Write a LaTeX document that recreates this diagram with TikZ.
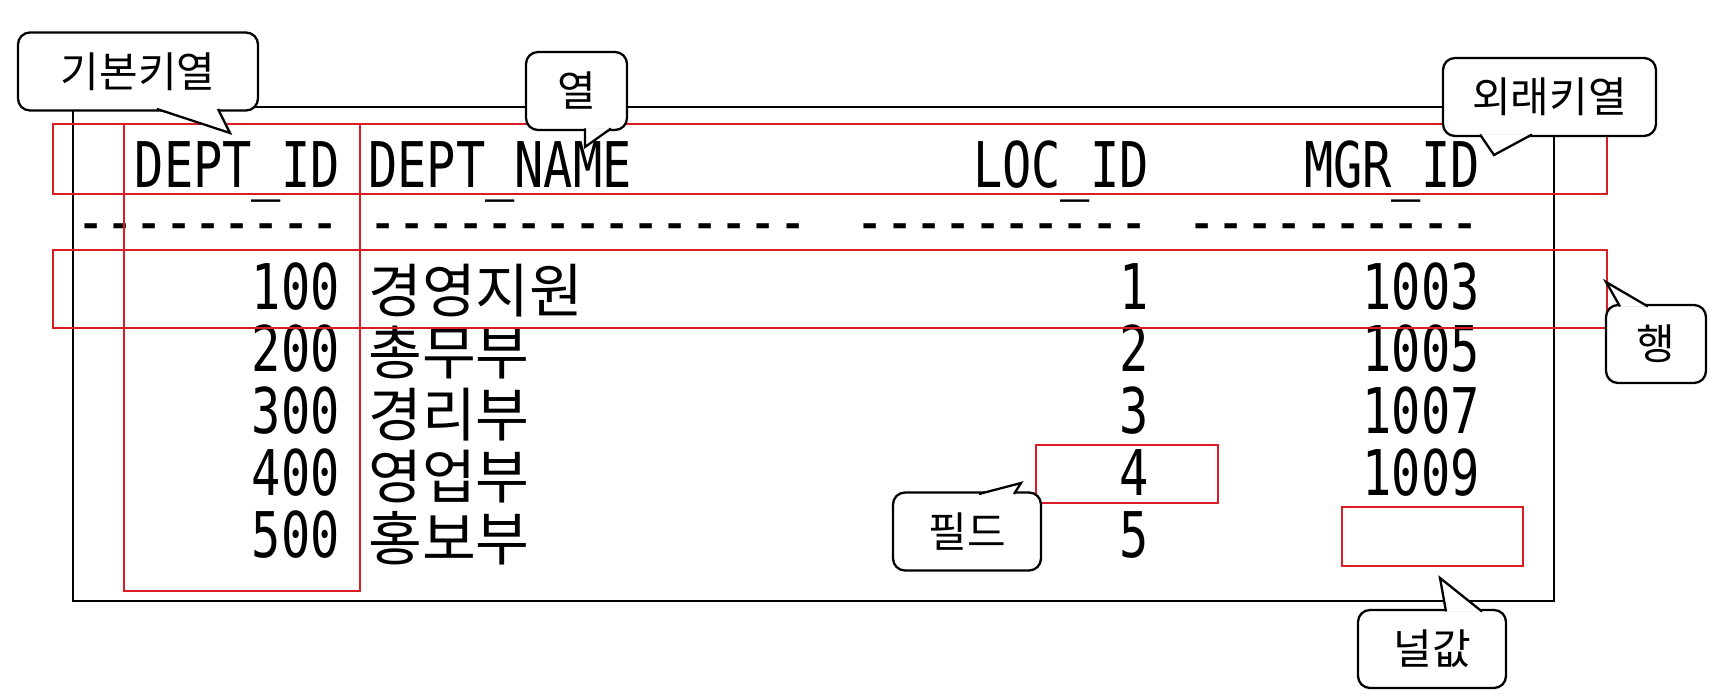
\documentclass[tikz,border=0pt]{standalone}
\usepackage{fontspec}
\setmonofont[FakeStretch=0.772]{DejaVu Sans Mono}
\newfontfamily\hanfont{Noto Sans CJK KR}
\usetikzlibrary{calc}
\definecolor{keyred}{RGB}{218,28,36}

\begin{document}
\begin{tikzpicture}[x=1pt, y=-1pt]

    \tikzstyle{cell} = [inner sep=0, font=\ttfamily\fontsize{63}{63}\selectfont];
    \tikzstyle{hancell} = [inner sep=0, font=\hanfont\fontsize{58.5}{58.5}\selectfont];
    \tikzstyle{keybox} = [draw=keyred, line width=2pt];
    \tikzstyle{bubble} = [draw, line width=2.3pt, rounded corners=12pt, fill=white, minimum height=78pt, inner sep=0, outer sep=0, font=\hanfont\fontsize{42}{42}\selectfont];
    \tikzstyle{tail} = [draw, line width=2.3pt, fill=white, line join=miter];

    \useasboundingbox (0,0) rectangle (1716,700);

    % Frame
    \draw[line width=2pt] (73,107) rectangle (1554,601);

    % Header
    \node[cell, anchor=base east] (HID) at (340,188) {DEPT\_ID};
    \node[cell, anchor=base west] (HNM) at (368,188) {DEPT\_NAME};
    \node[cell, anchor=base east] (HLC) at (1149,188) {LOC\_ID};
    \node[cell, anchor=base east] (HMG) at (1480,188) {MGR\_ID};

    \node[cell, anchor=base east] (DID) at (340,244) {---------};
    \node[cell, anchor=base west] (DNM) at (368,244) {---------------};
    \node[cell, anchor=base east] (DLC) at (1149,244) {----------};
    \node[cell, anchor=base east] (DMG) at (1480,244) {----------};

    % Rows
    \node[cell, anchor=base east] (ID1) at (340,310) {100};
    \node[hancell, anchor=base west] (NM1) at (368,313) {경영지원};
    \node[cell, anchor=base east] (LC1) at (1149,310) {1};
    \node[cell, anchor=base east] (MG1) at (1480,310) {1003};

    \node[cell, anchor=base east] (ID2) at (340,372) {200};
    \node[hancell, anchor=base west] (NM2) at (368,375) {총무부};
    \node[cell, anchor=base east] (LC2) at (1149,372) {2};
    \node[cell, anchor=base east] (MG2) at (1480,372) {1005};

    \node[cell, anchor=base east] (ID3) at (340,433) {300};
    \node[hancell, anchor=base west] (NM3) at (368,436) {경리부};
    \node[cell, anchor=base east] (LC3) at (1149,433) {3};
    \node[cell, anchor=base east] (MG3) at (1480,433) {1007};

    \node[cell, anchor=base east] (ID4) at (340,495) {400};
    \node[hancell, anchor=base west] (NM4) at (368,498) {영업부};
    \node[cell, anchor=base east] (LC4) at (1149,495) {4};
    \node[cell, anchor=base east] (MG4) at (1480,495) {1009};

    \node[cell, anchor=base east] (ID5) at (340,557) {500};
    \node[hancell, anchor=base west] (NM5) at (368,560) {홍보부};
    \node[cell, anchor=base east] (LC5) at (1149,557) {5};
    % Rows

    % Marks
    \draw[keybox] (53,124) rectangle (1607,194);
    \draw[keybox] (124,124) rectangle (360,591);
    \draw[keybox] (53,250) rectangle (1607,328);
    \draw[keybox] (1036,445) rectangle (1218,503);
    \draw[keybox] (1342,507) rectangle (1523,566);

    % Callouts
    \node[bubble, minimum width=240pt] (CPK) at (138,71.5) {기본키열};
    \coordinate (TPK) at (230,133);
    \draw[tail] ($(CPK.south west)+(139,-1.5)$) -- (TPK) -- ($(CPK.south west)+(200,-1.5)$);

    \node[bubble, minimum width=101pt] (CCOL) at (576.5,91) {열};
    \coordinate (TCOL) at (585,147);
    \draw[tail] ($(CCOL.south west)+(59,-1.5)$) -- (TCOL) -- ($(CCOL.south west)+(85,-1.5)$);

    \node[bubble, minimum width=213pt] (CFK) at (1549.5,97) {외래키열};
    \coordinate (TFK) at (1494,155);
    \draw[tail] ($(CFK.south west)+(37,-1.5)$) -- (TFK) -- ($(CFK.south west)+(89,-1.5)$);

    \node[bubble, minimum width=100pt] (CROW) at (1656,344) {행};
    \coordinate (TROW) at (1606,282);
    \draw[tail] ($(CROW.north west)+(14,1.5)$) -- (TROW) -- ($(CROW.north west)+(42,1.5)$);

    \node[bubble, minimum width=148pt] (CFLD) at (967,531.5) {필드};
    \coordinate (TFLD) at (1021,483);
    \draw[tail] ($(CFLD.north west)+(86,1.5)$) -- (TFLD) -- ($(CFLD.north west)+(121,1.5)$);

    \node[bubble, minimum width=148pt] (CNULL) at (1432,649) {널값};
    \coordinate (TNULL) at (1440,578);
    \draw[tail] ($(CNULL.north west)+(88,1.5)$) -- (TNULL) -- ($(CNULL.north west)+(124,1.5)$);
    % Callouts

\end{tikzpicture}
\end{document}
